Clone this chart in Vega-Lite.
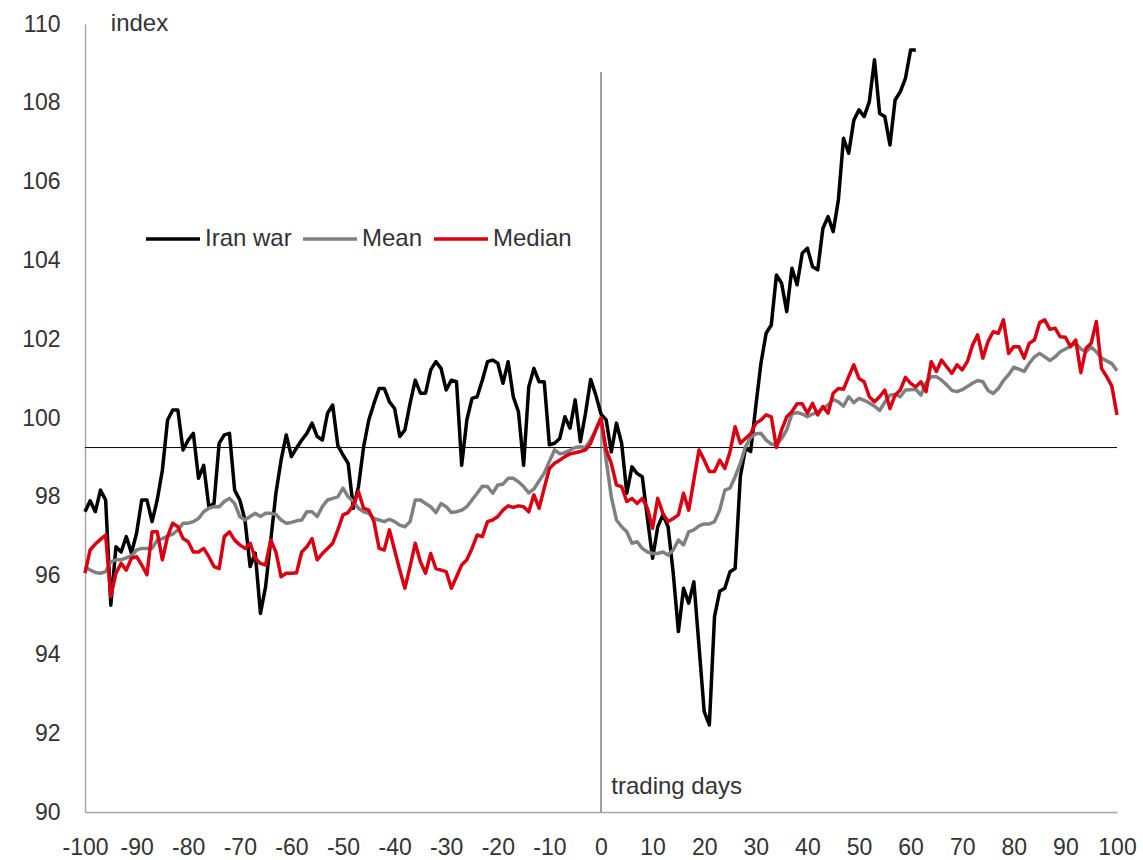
{
  "$schema": "https://vega.github.io/schema/vega-lite/v6.json",
  "width": 1032,
  "height": 788,
  "autosize": {"type": "none"},
  "padding": {"left": 85, "top": 24, "right": 26, "bottom": 48},
  "background": "white",
  "config": {
    "view": {"stroke": null},
    "font": "Liberation Sans",
    "axis": {"grid": false, "ticks": false, "tickSize": 0, "domainColor": "#a6a6a6", "domainWidth": 1.5, "labelFont": "Liberation Sans", "labelFontSize": 23, "labelColor": "#333333"}
  },
  "datasets": {
    "days": [
      {"d":-100,"Iran war":97.62,"Mean":96.23,"Median":96.06},
      {"d":-99,"Iran war":97.9,"Mean":96.14,"Median":96.65},
      {"d":-98,"Iran war":97.62,"Mean":96.08,"Median":96.8},
      {"d":-97,"Iran war":98.17,"Mean":96.06,"Median":96.92},
      {"d":-96,"Iran war":97.92,"Mean":96.1,"Median":97.03},
      {"d":-95,"Iran war":95.25,"Mean":96.35,"Median":95.47},
      {"d":-94,"Iran war":96.73,"Mean":96.4,"Median":96.06},
      {"d":-93,"Iran war":96.6,"Mean":96.4,"Median":96.31},
      {"d":-92,"Iran war":96.99,"Mean":96.45,"Median":96.14},
      {"d":-91,"Iran war":96.57,"Mean":96.5,"Median":96.44},
      {"d":-90,"Iran war":97.08,"Mean":96.65,"Median":96.48},
      {"d":-89,"Iran war":97.92,"Mean":96.69,"Median":96.27},
      {"d":-88,"Iran war":97.92,"Mean":96.69,"Median":96.02},
      {"d":-87,"Iran war":97.37,"Mean":96.69,"Median":97.11},
      {"d":-86,"Iran war":97.92,"Mean":96.9,"Median":97.11},
      {"d":-85,"Iran war":98.68,"Mean":96.94,"Median":96.4},
      {"d":-84,"Iran war":99.95,"Mean":97.0,"Median":96.99},
      {"d":-83,"Iran war":100.2,"Mean":97.05,"Median":97.33},
      {"d":-82,"Iran war":100.2,"Mean":97.16,"Median":97.24},
      {"d":-81,"Iran war":99.19,"Mean":97.33,"Median":96.94},
      {"d":-80,"Iran war":99.44,"Mean":97.33,"Median":96.86},
      {"d":-79,"Iran war":99.61,"Mean":97.37,"Median":96.6},
      {"d":-78,"Iran war":98.47,"Mean":97.45,"Median":96.6},
      {"d":-77,"Iran war":98.8,"Mean":97.62,"Median":96.69},
      {"d":-76,"Iran war":97.75,"Mean":97.71,"Median":96.48},
      {"d":-75,"Iran war":97.83,"Mean":97.75,"Median":96.23},
      {"d":-74,"Iran war":99.36,"Mean":97.75,"Median":96.18},
      {"d":-73,"Iran war":99.57,"Mean":97.88,"Median":96.99},
      {"d":-72,"Iran war":99.61,"Mean":97.96,"Median":97.11},
      {"d":-71,"Iran war":98.17,"Mean":97.83,"Median":96.9},
      {"d":-70,"Iran war":97.92,"Mean":97.5,"Median":96.78},
      {"d":-69,"Iran war":97.41,"Mean":97.41,"Median":96.69},
      {"d":-68,"Iran war":96.23,"Mean":97.5,"Median":96.82},
      {"d":-67,"Iran war":96.57,"Mean":97.58,"Median":96.44},
      {"d":-66,"Iran war":95.04,"Mean":97.5,"Median":96.31},
      {"d":-65,"Iran war":95.72,"Mean":97.58,"Median":96.27},
      {"d":-64,"Iran war":96.9,"Mean":97.58,"Median":96.9},
      {"d":-63,"Iran war":98.09,"Mean":97.55,"Median":96.6},
      {"d":-62,"Iran war":98.93,"Mean":97.41,"Median":95.97},
      {"d":-61,"Iran war":99.57,"Mean":97.33,"Median":96.06},
      {"d":-60,"Iran war":99.02,"Mean":97.35,"Median":96.06},
      {"d":-59,"Iran war":99.24,"Mean":97.39,"Median":96.07},
      {"d":-58,"Iran war":99.44,"Mean":97.41,"Median":96.6},
      {"d":-57,"Iran war":99.61,"Mean":97.62,"Median":96.73},
      {"d":-56,"Iran war":99.87,"Mean":97.62,"Median":96.94},
      {"d":-55,"Iran war":99.53,"Mean":97.5,"Median":96.4},
      {"d":-54,"Iran war":99.44,"Mean":97.75,"Median":96.56},
      {"d":-53,"Iran war":100.12,"Mean":97.92,"Median":96.69},
      {"d":-52,"Iran war":100.33,"Mean":97.96,"Median":96.82},
      {"d":-51,"Iran war":99.3,"Mean":98.0,"Median":97.16},
      {"d":-50,"Iran war":99.06,"Mean":98.22,"Median":97.54},
      {"d":-49,"Iran war":98.85,"Mean":98.0,"Median":97.6},
      {"d":-48,"Iran war":97.71,"Mean":97.88,"Median":97.8},
      {"d":-47,"Iran war":98.26,"Mean":97.71,"Median":98.13},
      {"d":-46,"Iran war":99.27,"Mean":97.62,"Median":97.71},
      {"d":-45,"Iran war":99.95,"Mean":97.58,"Median":97.66},
      {"d":-44,"Iran war":100.37,"Mean":97.45,"Median":97.37},
      {"d":-43,"Iran war":100.75,"Mean":97.41,"Median":96.69},
      {"d":-42,"Iran war":100.75,"Mean":97.37,"Median":96.65},
      {"d":-41,"Iran war":100.41,"Mean":97.43,"Median":97.16},
      {"d":-40,"Iran war":100.24,"Mean":97.37,"Median":96.65},
      {"d":-39,"Iran war":99.53,"Mean":97.28,"Median":96.14},
      {"d":-38,"Iran war":99.7,"Mean":97.24,"Median":95.68},
      {"d":-37,"Iran war":100.37,"Mean":97.37,"Median":96.23},
      {"d":-36,"Iran war":100.96,"Mean":97.92,"Median":96.82},
      {"d":-35,"Iran war":100.63,"Mean":97.92,"Median":96.35},
      {"d":-34,"Iran war":100.63,"Mean":97.83,"Median":96.06},
      {"d":-33,"Iran war":101.22,"Mean":97.75,"Median":96.56},
      {"d":-32,"Iran war":101.43,"Mean":97.6,"Median":96.18},
      {"d":-31,"Iran war":101.26,"Mean":97.83,"Median":96.14},
      {"d":-30,"Iran war":100.71,"Mean":97.75,"Median":96.1},
      {"d":-29,"Iran war":100.96,"Mean":97.6,"Median":95.68},
      {"d":-28,"Iran war":100.92,"Mean":97.62,"Median":95.97},
      {"d":-27,"Iran war":98.8,"Mean":97.66,"Median":96.27},
      {"d":-26,"Iran war":99.95,"Mean":97.75,"Median":96.4},
      {"d":-25,"Iran war":100.5,"Mean":97.92,"Median":96.69},
      {"d":-24,"Iran war":100.54,"Mean":98.09,"Median":97.03},
      {"d":-23,"Iran war":100.96,"Mean":98.27,"Median":96.99},
      {"d":-22,"Iran war":101.43,"Mean":98.26,"Median":97.37},
      {"d":-21,"Iran war":101.47,"Mean":98.09,"Median":97.41},
      {"d":-20,"Iran war":101.39,"Mean":98.3,"Median":97.5},
      {"d":-19,"Iran war":100.88,"Mean":98.32,"Median":97.66},
      {"d":-18,"Iran war":101.43,"Mean":98.47,"Median":97.77},
      {"d":-17,"Iran war":100.54,"Mean":98.47,"Median":97.73},
      {"d":-16,"Iran war":100.16,"Mean":98.38,"Median":97.77},
      {"d":-15,"Iran war":98.8,"Mean":98.26,"Median":97.75},
      {"d":-14,"Iran war":100.79,"Mean":98.1,"Median":97.62},
      {"d":-13,"Iran war":101.26,"Mean":98.2,"Median":98.05},
      {"d":-12,"Iran war":100.92,"Mean":98.4,"Median":97.71},
      {"d":-11,"Iran war":100.92,"Mean":98.6,"Median":98.22},
      {"d":-10,"Iran war":99.32,"Mean":98.9,"Median":98.72},
      {"d":-9,"Iran war":99.36,"Mean":99.19,"Median":98.85},
      {"d":-8,"Iran war":99.48,"Mean":99.09,"Median":98.93},
      {"d":-7,"Iran war":100.03,"Mean":99.12,"Median":99.02},
      {"d":-6,"Iran war":99.74,"Mean":99.18,"Median":99.09},
      {"d":-5,"Iran war":100.46,"Mean":99.25,"Median":99.12},
      {"d":-4,"Iran war":99.4,"Mean":99.27,"Median":99.15},
      {"d":-3,"Iran war":100.12,"Mean":99.25,"Median":99.19},
      {"d":-2,"Iran war":100.98,"Mean":99.45,"Median":99.36},
      {"d":-1,"Iran war":100.58,"Mean":99.7,"Median":99.7},
      {"d":0,"Iran war":100.1,"Mean":100.0,"Median":100.0},
      {"d":1,"Iran war":99.95,"Mean":98.93,"Median":99.19},
      {"d":2,"Iran war":99.14,"Mean":98.0,"Median":98.85},
      {"d":3,"Iran war":99.87,"Mean":97.41,"Median":98.3},
      {"d":4,"Iran war":99.36,"Mean":97.24,"Median":98.26},
      {"d":5,"Iran war":98.09,"Mean":97.11,"Median":97.88},
      {"d":6,"Iran war":98.76,"Mean":96.82,"Median":97.96},
      {"d":7,"Iran war":98.59,"Mean":96.86,"Median":97.83},
      {"d":8,"Iran war":98.51,"Mean":96.69,"Median":97.96},
      {"d":9,"Iran war":97.45,"Mean":96.6,"Median":97.71},
      {"d":10,"Iran war":96.44,"Mean":96.56,"Median":97.2},
      {"d":11,"Iran war":97.24,"Mean":96.56,"Median":97.96},
      {"d":12,"Iran war":97.54,"Mean":96.6,"Median":97.58},
      {"d":13,"Iran war":97.24,"Mean":96.52,"Median":97.37},
      {"d":14,"Iran war":96.06,"Mean":96.65,"Median":97.45},
      {"d":15,"Iran war":94.58,"Mean":96.9,"Median":97.54},
      {"d":16,"Iran war":95.68,"Mean":96.78,"Median":98.09},
      {"d":17,"Iran war":95.3,"Mean":97.11,"Median":97.66},
      {"d":18,"Iran war":95.84,"Mean":97.16,"Median":98.43},
      {"d":19,"Iran war":94.2,"Mean":97.26,"Median":99.19},
      {"d":20,"Iran war":92.55,"Mean":97.31,"Median":98.93},
      {"d":21,"Iran war":92.21,"Mean":97.31,"Median":98.64},
      {"d":22,"Iran war":94.96,"Mean":97.37,"Median":98.64},
      {"d":23,"Iran war":95.6,"Mean":97.66,"Median":98.93},
      {"d":24,"Iran war":95.68,"Mean":98.17,"Median":98.72},
      {"d":25,"Iran war":96.1,"Mean":98.22,"Median":99.14},
      {"d":26,"Iran war":96.18,"Mean":98.51,"Median":99.78},
      {"d":27,"Iran war":98.51,"Mean":98.85,"Median":99.36},
      {"d":28,"Iran war":99.23,"Mean":99.27,"Median":99.48},
      {"d":29,"Iran war":99.15,"Mean":99.5,"Median":99.6},
      {"d":30,"Iran war":100.3,"Mean":99.6,"Median":99.87},
      {"d":31,"Iran war":101.39,"Mean":99.61,"Median":99.95},
      {"d":32,"Iran war":102.15,"Mean":99.44,"Median":100.08},
      {"d":33,"Iran war":102.36,"Mean":99.34,"Median":100.03},
      {"d":34,"Iran war":103.63,"Mean":99.31,"Median":99.25},
      {"d":35,"Iran war":103.42,"Mean":99.48,"Median":99.7},
      {"d":36,"Iran war":102.7,"Mean":99.7,"Median":100.03},
      {"d":37,"Iran war":103.8,"Mean":100.1,"Median":100.16},
      {"d":38,"Iran war":103.38,"Mean":100.14,"Median":100.36},
      {"d":39,"Iran war":104.18,"Mean":100.1,"Median":100.36},
      {"d":40,"Iran war":104.31,"Mean":100.03,"Median":100.12},
      {"d":41,"Iran war":103.84,"Mean":100.1,"Median":100.37},
      {"d":42,"Iran war":103.76,"Mean":100.15,"Median":100.08},
      {"d":43,"Iran war":104.81,"Mean":100.25,"Median":100.29},
      {"d":44,"Iran war":105.11,"Mean":100.33,"Median":100.12},
      {"d":45,"Iran war":104.73,"Mean":100.47,"Median":100.63},
      {"d":46,"Iran war":105.53,"Mean":100.41,"Median":100.75},
      {"d":47,"Iran war":107.1,"Mean":100.3,"Median":100.73},
      {"d":48,"Iran war":106.72,"Mean":100.54,"Median":101.05},
      {"d":49,"Iran war":107.56,"Mean":100.39,"Median":101.35},
      {"d":50,"Iran war":107.82,"Mean":100.5,"Median":101.0},
      {"d":51,"Iran war":107.65,"Mean":100.45,"Median":100.92},
      {"d":52,"Iran war":108.03,"Mean":100.38,"Median":100.54},
      {"d":53,"Iran war":109.09,"Mean":100.3,"Median":100.41},
      {"d":54,"Iran war":107.73,"Mean":100.19,"Median":100.54},
      {"d":55,"Iran war":107.65,"Mean":100.4,"Median":100.71},
      {"d":56,"Iran war":106.93,"Mean":100.58,"Median":100.24},
      {"d":57,"Iran war":108.07,"Mean":100.6,"Median":100.58},
      {"d":58,"Iran war":108.28,"Mean":100.54,"Median":100.71},
      {"d":59,"Iran war":108.62,"Mean":100.71,"Median":101.03},
      {"d":60,"Iran war":109.34,"Mean":100.72,"Median":100.88},
      {"d":61,"Iran war":109.34,"Mean":100.73,"Median":100.79},
      {"d":62,"Mean":100.58,"Median":100.92},
      {"d":63,"Mean":100.9,"Median":100.67},
      {"d":64,"Mean":101.05,"Median":101.43},
      {"d":65,"Mean":101.05,"Median":101.18},
      {"d":66,"Mean":100.96,"Median":101.47},
      {"d":67,"Mean":100.84,"Median":101.3},
      {"d":68,"Mean":100.7,"Median":101.13},
      {"d":69,"Mean":100.67,"Median":101.35},
      {"d":70,"Mean":100.72,"Median":101.22},
      {"d":71,"Mean":100.8,"Median":101.43},
      {"d":72,"Mean":100.88,"Median":101.85},
      {"d":73,"Mean":100.95,"Median":102.11},
      {"d":74,"Mean":100.92,"Median":101.52},
      {"d":75,"Mean":100.7,"Median":101.94},
      {"d":76,"Mean":100.62,"Median":102.19},
      {"d":77,"Mean":100.75,"Median":102.15},
      {"d":78,"Mean":100.95,"Median":102.49},
      {"d":79,"Mean":101.1,"Median":101.64},
      {"d":80,"Mean":101.29,"Median":101.81},
      {"d":81,"Mean":101.24,"Median":101.81},
      {"d":82,"Mean":101.18,"Median":101.52},
      {"d":83,"Mean":101.39,"Median":101.9},
      {"d":84,"Mean":101.55,"Median":101.98},
      {"d":85,"Mean":101.64,"Median":102.42},
      {"d":86,"Mean":101.55,"Median":102.49},
      {"d":87,"Mean":101.46,"Median":102.25},
      {"d":88,"Mean":101.55,"Median":102.28},
      {"d":89,"Mean":101.68,"Median":102.06},
      {"d":90,"Mean":101.75,"Median":102.05},
      {"d":91,"Mean":101.82,"Median":101.81},
      {"d":92,"Mean":101.9,"Median":101.98},
      {"d":93,"Mean":101.75,"Median":101.15},
      {"d":94,"Mean":101.68,"Median":101.77},
      {"d":95,"Mean":101.8,"Median":101.9},
      {"d":96,"Mean":101.68,"Median":102.45},
      {"d":97,"Mean":101.52,"Median":101.26},
      {"d":98,"Mean":101.45,"Median":101.05},
      {"d":99,"Mean":101.38,"Median":100.81},
      {"d":100,"Mean":101.2,"Median":100.08}
    ]
  },
  "layer": [
    {
      "data": {"values": [{"value": 99.25}]},
      "mark": {"type": "rule", "color": "#000000", "strokeWidth": 1},
      "encoding": {
        "y": {"field": "value", "type": "quantitative", "title": null, "scale": {"domain": [90, 110], "nice": false}}
      }
    },
    {
      "data": {"values": [{"d": 0, "value": 108.78, "value2": 90}]},
      "mark": {"type": "rule", "color": "#404040", "strokeWidth": 1},
      "encoding": {
        "x": {"field": "d", "type": "quantitative", "title": null},
        "y": {"field": "value", "type": "quantitative", "title": null},
        "y2": {"field": "value2"}
      }
    },
    {
      "data": {"name": "days"},
      "transform": [
        {"fold": ["Iran war", "Mean", "Median"], "as": ["series", "value"]},
        {"filter": "isValid(datum.value)"}
      ],
      "mark": {"type": "line", "strokeWidth": 3.5, "strokeJoin": "round"},
      "encoding": {
        "x": {
          "field": "d", "type": "quantitative", "title": null,
          "scale": {"domain": [-100, 100], "nice": false},
          "axis": {"values": [-100,-90,-80,-70,-60,-50,-40,-30,-20,-10,0,10,20,30,40,50,60,70,80,90,100], "labelExpr": "datum.value + ''", "labelPadding": 24, "labelFlush": false, "labelOverlap": false}
        },
        "y": {
          "field": "value", "type": "quantitative", "title": null,
          "scale": {"domain": [90, 110], "nice": false},
          "axis": {"values": [90,92,94,96,98,100,102,104,106,108,110], "labelPadding": 25, "labelFlush": false, "labelOverlap": false}
        },
        "color": {
          "field": "series", "type": "nominal",
          "scale": {"domain": ["Iran war", "Mean", "Median"], "range": ["#000000", "#808080", "#db0011"]},
          "legend": {
            "title": null, "orient": "none", "legendX": 59, "legendY": 186, "direction": "horizontal",
            "symbolType": "stroke", "symbolSize": 2916, "symbolStrokeWidth": 3.5,
            "labelFontSize": 24, "labelFont": "Liberation Sans", "labelColor": "#333333",
            "labelOffset": 3, "columnPadding": 4
          }
        },
        "order": {"field": "d", "type": "quantitative"}
      }
    },
    {
      "data": {"values": [{"d": -95, "value": 110, "label": "index"}, {"d": 2, "value": 90.63, "label": "trading days"}]},
      "mark": {"type": "text", "align": "left", "baseline": "middle", "fontSize": 24, "font": "Liberation Sans", "color": "#333333"},
      "encoding": {
        "x": {"field": "d", "type": "quantitative", "title": null},
        "y": {"field": "value", "type": "quantitative", "title": null},
        "text": {"field": "label"}
      }
    }
  ]
}
